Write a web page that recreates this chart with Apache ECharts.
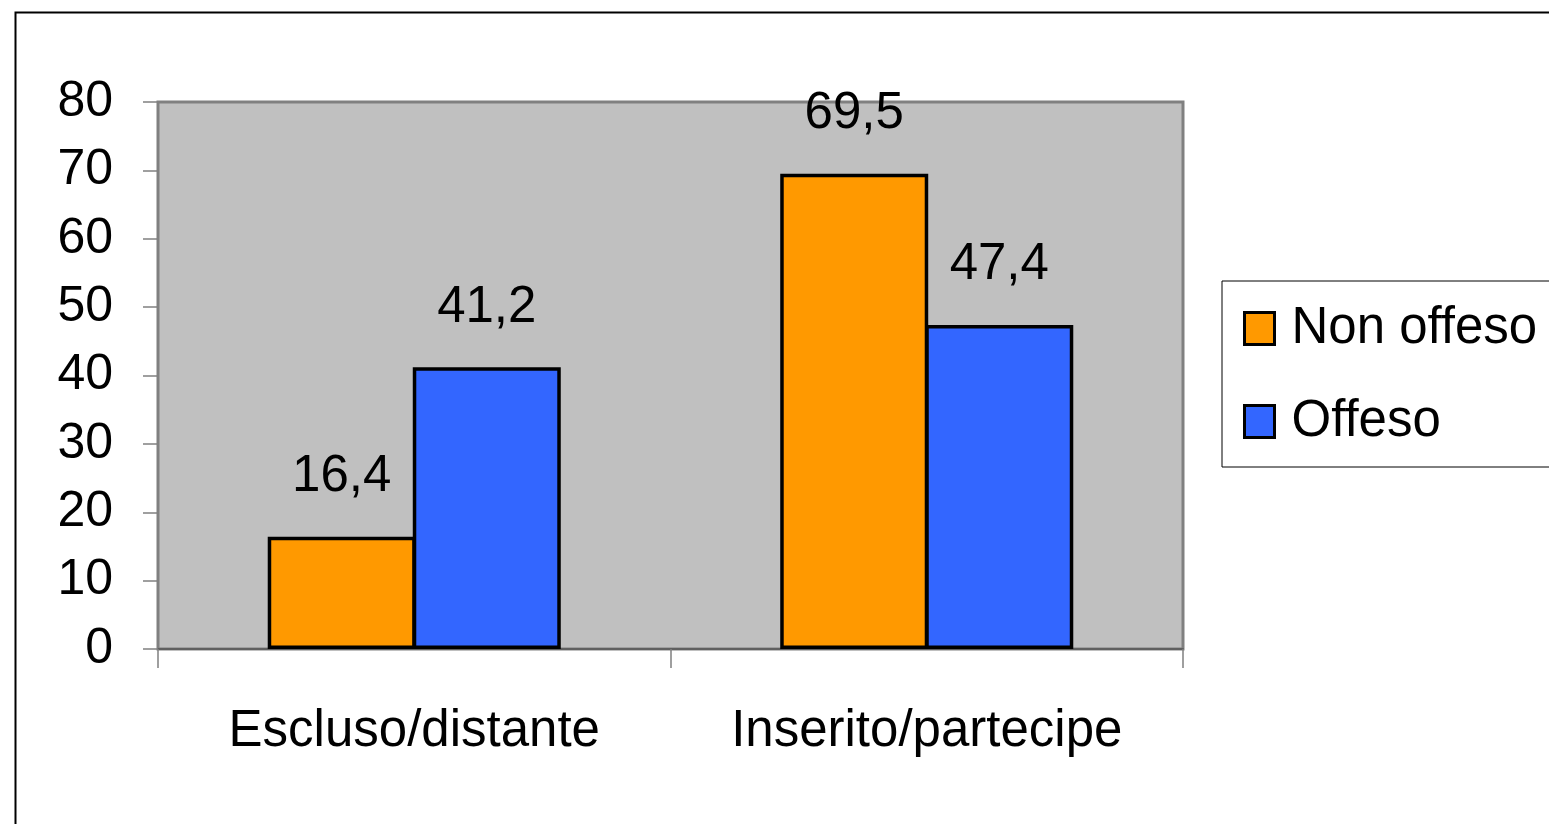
<!DOCTYPE html>
<html><head><meta charset="utf-8">
<script src="https://cdn.jsdelivr.net/npm/echarts@6/dist/echarts.min.js"></script>
<style>html,body{margin:0;padding:0;background:#fff}#c{width:1549px;height:824px}</style>
</head><body><div id="c"></div>
<script>
const categories = ['Escluso/distante', 'Inserito/partecipe'];
const nonOffeso = [16.4, 69.5];
const offeso = [41.2, 47.4];
const seriesNames = ['Non offeso', 'Offeso'];
const yTicks = [0, 10, 20, 30, 40, 50, 60, 70, 80];

const chart = echarts.init(document.getElementById('c'));
const FONT = '"Liberation Sans", Arial, sans-serif';
const lbl = {
  show: true, position: 'top', distance: 34, color: '#000',
  fontFamily: FONT, fontSize: 51,
  formatter: p => String(p.value).replace('.', ',')
};
chart.setOption({
  backgroundColor: '#fff',
  animation: false,
  graphic: [{
    type: 'rect', left: 13, top: 10, shape: {width: 1700, height: 1000},
    style: {fill: 'none', stroke: '#000', lineWidth: 2}, z: -1
  }],
  grid: {
    left: 158, right: 366, top: 102, bottom: 175,
    show: true, backgroundColor: '#C0C0C0', borderColor: '#808080', borderWidth: 3
  },
  legend: {
    orient: 'vertical', left: 1222, top: 281,
    data: seriesNames, icon: 'rect',
    backgroundColor: '#fff', borderColor: '#000', borderWidth: 1,
    padding: [22, 40, 20, 21],
    itemWidth: 30, itemHeight: 32, itemGap: 42,
    itemStyle: {borderColor: '#000', borderWidth: 3},
    textStyle: {fontFamily: FONT, fontSize: 51, color: '#000', lineHeight: 50, padding: [0, 0, 0, 12]}
  },
  xAxis: {
    type: 'category', data: categories,
    axisLine: {lineStyle: {color: '#606060', width: 2}},
    axisTick: {show: true, length: 19, alignWithLabel: false, lineStyle: {color: '#808080', width: 1.5}},
    axisLabel: {fontFamily: FONT, fontSize: 51, color: '#000', margin: 57}
  },
  yAxis: {
    type: 'value', min: 0, max: 80, interval: 10,
    splitLine: {show: false},
    axisLine: {show: true, lineStyle: {color: '#808080', width: 2}},
    axisTick: {show: true, length: 15, lineStyle: {color: '#808080', width: 1.5}},
    axisLabel: {fontFamily: FONT, fontSize: 50, color: '#000', margin: 45,
      formatter: v => yTicks.includes(v) ? String(v) : ''}
  },
  series: [
    {name: seriesNames[0], type: 'bar', data: nonOffeso, barWidth: 148, barGap: '-2%',
     itemStyle: {color: '#FF9900', borderColor: '#000', borderWidth: 3.5}, label: lbl},
    {name: seriesNames[1], type: 'bar', data: offeso, barWidth: 148, barGap: '-2%',
     itemStyle: {color: '#3366FF', borderColor: '#000', borderWidth: 3.5}, label: lbl}
  ]
});
</script></body></html>
